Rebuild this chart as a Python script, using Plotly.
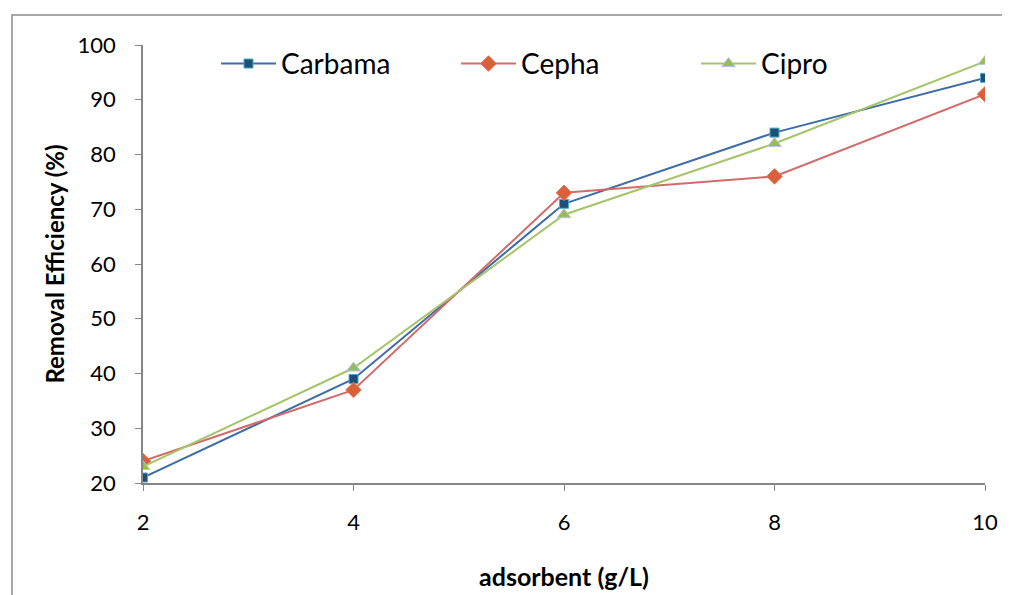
import plotly.graph_objects as go

# adsorbent dose (g/L)
dose = [2, 4, 6, 8, 10]

# removal efficiency (%)
carbama = [21, 39, 71, 84, 94]
cepha = [24, 37, 73, 76, 91]
cipro = [23, 41, 69, 82, 97]

fnt = "Lato, 'Liberation Sans', sans-serif"

fig = go.Figure()

fig.add_trace(go.Scatter(x=dose, y=carbama, name="Carbama", mode="lines+markers",
                         line=dict(color="#3D6CA8", width=2),
                         marker=dict(symbol="square", size=9, color="#1F4E79",
                                     line=dict(color="#4BACC6", width=1))))
fig.add_trace(go.Scatter(x=dose, y=cepha, name="Cepha", mode="lines+markers",
                         line=dict(color="#D26B6A", width=2),
                         marker=dict(symbol="diamond", size=12, color="#D9603B",
                                     line=dict(color="#E07A5A", width=1))))
fig.add_trace(go.Scatter(x=dose, y=cipro, name="Cipro", mode="lines+markers",
                         line=dict(color="#A6C46A", width=2),
                         marker=dict(symbol="triangle-up", size=12, color="#9BBB59",
                                     line=dict(color="#B4C7E7", width=1))))

# outer chart border
fig.add_shape(type="rect", xref="paper", yref="paper",
              x0=-0.1556, x1=1.0238, y0=-0.4, y1=1.0685,
              line=dict(color="#8C8C8C", width=1.5), fillcolor="rgba(0,0,0,0)")

# page has an 8px body margin, so the figure is a bit smaller than the window
fig.update_layout(
    width=1002, height=587,
    margin=dict(l=135, r=25, t=37, b=112),
    plot_bgcolor="white", paper_bgcolor="white",
    font=dict(family=fnt, size=20, color="#000000"),
    showlegend=True,
    legend=dict(orientation="h", x=0.0867, y=0.957, xanchor="left", yanchor="middle",
                font=dict(size=28), itemwidth=55, entrywidth=170, entrywidthmode="pixels",
                bgcolor="rgba(0,0,0,0)"),
)

fig.update_xaxes(range=[2, 10], tickvals=dose, showgrid=False, zeroline=False,
                 showline=True, linecolor="#868686", linewidth=1.5,
                 ticks="outside", ticklen=6, tickcolor="#868686", automargin=False,
                 tickfont=dict(size=22), ticklabelstandoff=13,
                 title=dict(text="<b>adsorbent (g/L)</b>", font=dict(size=25), standoff=34))
fig.update_yaxes(range=[20, 100], dtick=10, showgrid=False, zeroline=False,
                 showline=True, linecolor="#868686", linewidth=1.5,
                 ticks="outside", ticklen=6, tickcolor="#868686", automargin=False,
                 tickfont=dict(size=22), ticklabelstandoff=15,
                 title=dict(text="<b>Removal Efficiency (%)</b>", font=dict(size=24), standoff=6))

fig.write_html("out.html")
